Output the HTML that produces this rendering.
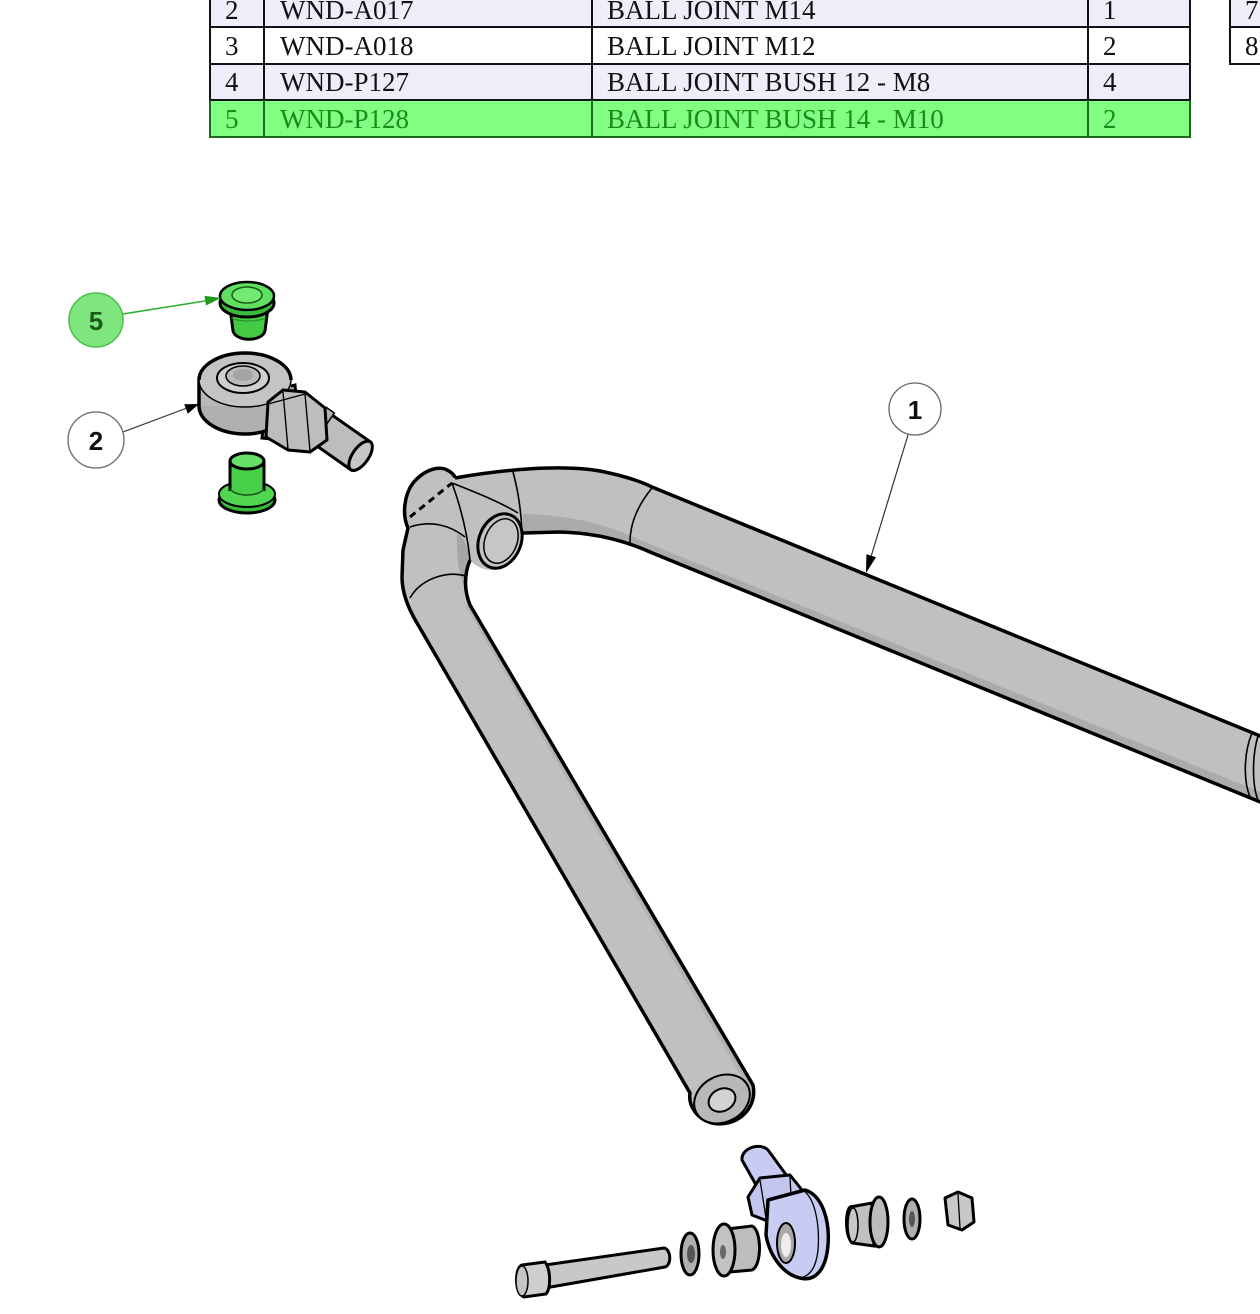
<!DOCTYPE html>
<html><head><meta charset="utf-8">
<style>
html,body{margin:0;padding:0;background:#fff;}
svg{display:block;}
.t{font-family:"Liberation Serif",serif;font-size:27px;fill:#111;}
.tg{font-family:"Liberation Serif",serif;font-size:27px;fill:#1b8a1b;}
.b{font-family:"Liberation Sans",sans-serif;font-size:26px;font-weight:bold;text-anchor:middle;}
</style></head><body>
<svg width="1260" height="1314" viewBox="0 0 1260 1314" xmlns="http://www.w3.org/2000/svg">
<rect width="1260" height="1314" fill="#fff"/>

<!-- ===== TABLE ===== -->
<rect x="210" y="-2" width="980" height="29" fill="#eeeefb"/>
<rect x="210" y="27" width="980" height="37" fill="#ffffff"/>
<rect x="210" y="64" width="980" height="36" fill="#eeeefb"/>
<rect x="210" y="100" width="980" height="37" fill="#80ff80"/>
<g stroke="#111" stroke-width="2">
  <line x1="210" y1="0" x2="210" y2="100"/>
  <line x1="264" y1="0" x2="264" y2="100"/>
  <line x1="592" y1="0" x2="592" y2="100"/>
  <line x1="1088" y1="0" x2="1088" y2="100"/>
  <line x1="1190" y1="0" x2="1190" y2="100"/>
  <line x1="209" y1="27" x2="1191" y2="27"/>
  <line x1="209" y1="64" x2="1191" y2="64"/>
  <line x1="209" y1="100" x2="1191" y2="100"/>
</g>
<g stroke="#1d6a1d" stroke-width="2">
  <line x1="210" y1="100" x2="210" y2="137"/>
  <line x1="264" y1="100" x2="264" y2="137"/>
  <line x1="592" y1="100" x2="592" y2="137"/>
  <line x1="1088" y1="100" x2="1088" y2="137"/>
  <line x1="1190" y1="100" x2="1190" y2="137"/>
  <line x1="209" y1="137" x2="1191" y2="137"/>
</g>
<text class="t" x="225" y="19">2</text>
<text class="t" x="280" y="19">WND-A017</text>
<text class="t" x="607" y="19">BALL JOINT M14</text>
<text class="t" x="1103" y="19">1</text>
<text class="t" x="225" y="55">3</text>
<text class="t" x="280" y="55">WND-A018</text>
<text class="t" x="607" y="55">BALL JOINT M12</text>
<text class="t" x="1103" y="55">2</text>
<text class="t" x="225" y="91">4</text>
<text class="t" x="280" y="91">WND-P127</text>
<text class="t" x="607" y="91">BALL JOINT BUSH 12 - M8</text>
<text class="t" x="1103" y="91">4</text>
<text class="tg" x="225" y="128">5</text>
<text class="tg" x="280" y="128">WND-P128</text>
<text class="tg" x="607" y="128">BALL JOINT BUSH 14 - M10</text>
<text class="tg" x="1103" y="128">2</text>

<!-- right table fragment -->
<rect x="1230" y="-2" width="32" height="29" fill="#eeeefb"/>
<rect x="1230" y="27" width="32" height="37" fill="#fff"/>
<g stroke="#111" stroke-width="2">
  <line x1="1230" y1="0" x2="1230" y2="64"/>
  <line x1="1229" y1="27" x2="1262" y2="27"/>
  <line x1="1229" y1="64" x2="1262" y2="64"/>
</g>
<text class="t" x="1245" y="19">7</text>
<text class="t" x="1245" y="55">8</text>

<!-- ===== A-ARM ===== -->
<path d="M455,478 C500,470 560,464 600,471 C625,476 640,481 652,487 L1270,740 L1270,806 L650,552 C630,543 600,533 560,532 L523,533
 C522,552 510,570 492,570 C482,570 474,565 470,560 C464,575 464,590 470,605 L753,1085 C758,1110 735,1128 712,1123 C697,1119 688,1106 690,1093
 L417,623 C408,608 402,592 402,577 L403,550 L408,528 C402,515 404,495 413,483 C422,472 435,466 445,469 C452,472 455,476 455,478 Z" fill="#c0c0c0"/>
<!-- shading -->
<path d="M523,514 C570,515 610,525 640,540 L1270,796 L1270,806 L650,552 C630,543 600,533 560,532 L523,533 Z" fill="#ababab"/>
<path d="M457,532 C466,540 470,552 470,562 C466,572 464,580 466,590 C460,580 456,560 457,532 Z" fill="#a6a6a6"/>
<path d="M470,605 L753,1085 L748,1088 L466,607 Z" fill="#b2b2b2"/>
<!-- outline -->
<path d="M455,478 C500,470 560,464 600,471 C625,476 640,481 652,487 L1270,740 M1270,806 L650,552 C630,543 600,533 560,532 L523,533
 M470,560 C464,575 464,590 470,605 L753,1085 C758,1110 735,1128 712,1123 C697,1119 688,1106 690,1093
 L417,623 C408,608 402,592 402,577 L403,550 L408,528 C402,515 404,495 413,483 C422,472 435,466 445,469 C452,472 455,476 455,478" fill="none" stroke="#000" stroke-width="3.5" stroke-linejoin="round"/>
<!-- section lines -->
<g fill="none" stroke="#000" stroke-width="1.6">
  <path d="M513,472 C518,490 521,510 522,532"/>
  <path d="M652,488 C638,505 629,525 630,546"/>
  <path d="M452,483 C460,505 467,530 470,560"/>
  <path d="M452,483 C475,492 500,502 518,513"/>
  <path d="M410,527 C430,520 450,525 465,537"/>
  <path d="M410,598 C420,580 445,570 466,576"/>
  <path d="M1252,733 C1244,752 1243,780 1250,797"/>
  <path d="M1258,736 C1252,756 1252,785 1258,800"/>
</g>
<path d="M410,517 L452,483" fill="none" stroke="#000" stroke-width="3" stroke-dasharray="7,5"/>
<!-- stub opening -->
<ellipse cx="500" cy="541" rx="21" ry="28" transform="rotate(22 500 541)" fill="#c2c2c2" stroke="#000" stroke-width="3"/>
<ellipse cx="501" cy="541" rx="16" ry="23" transform="rotate(22 501 541)" fill="#c6c6c6" stroke="#000" stroke-width="1.5"/>
<!-- end cap -->
<ellipse cx="722" cy="1099" rx="29" ry="23" transform="rotate(-28 722 1099)" fill="#b8b8b8" stroke="#000" stroke-width="2"/>
<ellipse cx="722" cy="1100" rx="14" ry="11" transform="rotate(-28 722 1100)" fill="#d2d2d2" stroke="#000" stroke-width="2"/>

<!-- leader 1 -->
<line x1="908" y1="435" x2="870" y2="560" stroke="#333" stroke-width="1.2"/>
<polygon points="866,573 876,557.3 866.4,554.3" fill="#000"/>
<circle cx="915" cy="409" r="26" fill="#fff" stroke="#666" stroke-width="1.3"/>
<text class="b" x="915" y="419" fill="#111">1</text>

<!-- ===== PART 2 BALL JOINT ===== -->
<!-- shank -->
<g transform="translate(318,426) rotate(35)">
  <rect x="0" y="-17" width="52" height="34" fill="#bdbdbd" stroke="#000" stroke-width="3"/>
  <ellipse cx="52" cy="0" rx="8" ry="17" fill="#c8c8c8" stroke="#000" stroke-width="3"/>
  <rect x="-4" y="-20" width="10" height="40" fill="#b4b4b4" stroke="#000" stroke-width="1.5"/>
</g>
<!-- neck -->
<polygon points="268,392 295,385 300,442 262,438" fill="#b8b8b8" stroke="#000" stroke-width="3"/>
<!-- eye -->
<ellipse cx="245" cy="406" rx="46" ry="28" fill="#b0b0b0" stroke="#000" stroke-width="3.5"/>
<rect x="199" y="380" width="92" height="26" fill="#b8b8b8"/>
<line x1="199" y1="380" x2="199" y2="406" stroke="#000" stroke-width="3.5"/>
<ellipse cx="245" cy="380" rx="46" ry="27" fill="#c4c4c4" stroke="#000" stroke-width="1.5"/>
<path d="M199,380 C199,365 220,353 245,353 C270,353 291,365 291,380" fill="none" stroke="#000" stroke-width="3.5"/>
<ellipse cx="243" cy="378" rx="26" ry="15" fill="#cfcfcf" stroke="#000" stroke-width="2"/>
<ellipse cx="243" cy="376" rx="17" ry="10" fill="#bbbbbb" stroke="#000" stroke-width="1.5"/>
<ellipse cx="243" cy="375" rx="10" ry="6" fill="#a4a4a4"/>
<!-- hex nut -->
<polygon points="268,402 283,390 305,392 325,408 327,440 310,452 288,450 266,437" fill="#bdbdbd" stroke="#000" stroke-width="3" stroke-linejoin="round"/>
<g stroke="#000" stroke-width="1.4" fill="none">
  <path d="M283,392 L288,449"/>
  <path d="M305,394 L310,451"/>
  <path d="M268,404 L305,394"/>
</g>

<!-- leader 2 -->
<line x1="123" y1="432" x2="187" y2="408" stroke="#333" stroke-width="1.2"/>
<polygon points="199,404 187.75,413.7 184.25,404.3" fill="#000"/>
<circle cx="96" cy="440" r="28" fill="#fff" stroke="#666" stroke-width="1.3"/>
<text class="b" x="96" y="450" fill="#111">2</text>

<!-- ===== GREEN BUSHES ===== -->
<!-- top bush -->
<path d="M229,300 L233,331 C236,342 262,342 265,331 L269,300 Z" fill="#44c944" stroke="#000" stroke-width="3"/>
<ellipse cx="247" cy="303" rx="27" ry="14" fill="#3bbd3b" stroke="#000" stroke-width="3"/>
<ellipse cx="247" cy="296" rx="27" ry="14" fill="#5fe05f" stroke="#000" stroke-width="2.5"/>
<ellipse cx="247" cy="295" rx="15" ry="8" fill="#72ea72" stroke="#1a5a1a" stroke-width="1.5"/>
<path d="M231,318 C240,322 256,322 266,318" fill="none" stroke="#2a8a2a" stroke-width="1"/>
<!-- lower bush -->
<ellipse cx="247" cy="500" rx="28" ry="13" fill="#3bbd3b" stroke="#000" stroke-width="3"/>
<ellipse cx="247" cy="494" rx="28" ry="13" fill="#50d650" stroke="#000" stroke-width="2"/>
<path d="M230,461 L230,490 C235,498 260,498 264,490 L264,461 Z" fill="#48cf48"/>
<line x1="230" y1="461" x2="230" y2="491" stroke="#000" stroke-width="3"/>
<line x1="264" y1="461" x2="264" y2="491" stroke="#000" stroke-width="3"/>
<path d="M230,489 C236,497 258,497 264,489" fill="none" stroke="#1a5a1a" stroke-width="1.5"/>
<ellipse cx="247" cy="461" rx="17" ry="8" fill="#66e066" stroke="#000" stroke-width="3"/>

<!-- leader 5 -->
<line x1="123" y1="314" x2="205" y2="301" stroke="#2fb02f" stroke-width="1.6"/>
<polygon points="221,298 206,305.5 204.4,295.7" fill="#1f9a1f"/>
<circle cx="96" cy="320" r="27" fill="#7fe67f" stroke="#4bbf4b" stroke-width="1.5"/>
<text class="b" x="96" y="330" fill="#1c5c1c">5</text>

<!-- ===== BOTTOM HARDWARE ===== -->
<!-- bolt -->
<path d="M545,1265 L664,1248 C671,1249 672,1265 665,1267 L545,1288 Z" fill="#c8c8c8" stroke="#000" stroke-width="3" stroke-linejoin="round"/>
<path d="M522,1265 L545,1262 C551,1270 551,1288 546,1294 L524,1297 C515,1294 514,1268 522,1265 Z" fill="#cfcfcf" stroke="#000" stroke-width="3"/>
<ellipse cx="522" cy="1281" rx="6" ry="15" fill="#c4c4c4" stroke="#000" stroke-width="1.5"/>
<!-- washer left -->
<ellipse cx="690" cy="1254" rx="9" ry="21" fill="#b0b0b0" stroke="#000" stroke-width="3"/>
<ellipse cx="691" cy="1254" rx="4" ry="9" fill="#555"/>
<!-- bush left -->
<path d="M727,1229 L752,1226 C762,1230 762,1266 752,1270 L730,1272 Z" fill="#bdbdbd" stroke="#000" stroke-width="3"/>
<ellipse cx="724" cy="1250" rx="11" ry="26" fill="#c2c2c2" stroke="#000" stroke-width="3"/>
<ellipse cx="723" cy="1252" rx="3" ry="7" fill="#666"/>
<!-- blue ball joint -->
<path d="M742,1160 C741,1148 760,1142 768,1150 L787,1176 L760,1192 Z" fill="#c8ccf2" stroke="#000" stroke-width="3" stroke-linejoin="round"/>
<polygon points="748,1197 760,1178 790,1175 802,1190 800,1212 770,1222 752,1215" fill="#c3c7ee" stroke="#000" stroke-width="3" stroke-linejoin="round"/>
<g stroke="#000" stroke-width="1.3" fill="none">
  <path d="M760,1180 L766,1218"/>
  <path d="M790,1177 L792,1215"/>
</g>
<path d="M768,1200 L805,1190 C822,1195 830,1220 828,1245 C826,1270 815,1282 800,1278 C785,1275 770,1258 766,1235 Z" fill="#c8ccf2" stroke="#000" stroke-width="3.5" stroke-linejoin="round"/>
<path d="M805,1192 C815,1200 820,1225 818,1250 C816,1268 810,1276 800,1278" fill="none" stroke="#000" stroke-width="1.3"/>
<ellipse cx="786" cy="1243" rx="9" ry="20" fill="#a8a8a8" stroke="#000" stroke-width="2"/>
<ellipse cx="786" cy="1245" rx="5" ry="12" fill="#ececec"/>
<!-- bush right -->
<path d="M850,1207 L872,1203 L874,1246 L852,1243 C845,1235 845,1212 850,1207 Z" fill="#c0c0c0" stroke="#000" stroke-width="3"/>
<ellipse cx="853" cy="1225" rx="5" ry="17" fill="#c8c8c8" stroke="#000" stroke-width="1.5"/>
<ellipse cx="879" cy="1222" rx="9" ry="25" fill="#bcbcbc" stroke="#000" stroke-width="3"/>
<!-- washer right -->
<ellipse cx="912" cy="1219" rx="8" ry="20" fill="#b0b0b0" stroke="#000" stroke-width="3"/>
<ellipse cx="912" cy="1219" rx="3" ry="8" fill="#555"/>
<!-- nut -->
<polygon points="945,1198 958,1192 972,1198 974,1222 962,1230 948,1225" fill="#c8c8c8" stroke="#000" stroke-width="3" stroke-linejoin="round"/>
<path d="M958,1194 L960,1228" stroke="#000" stroke-width="1.3"/>
</svg>
</body></html>
